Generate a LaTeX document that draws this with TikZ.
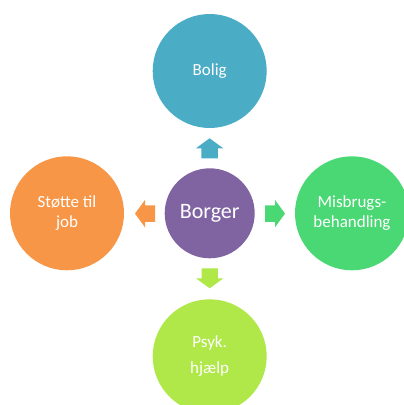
\documentclass[tikz,border=0pt]{standalone}
\usepackage{fontspec}
\setmainfont{Carlito}
\definecolor{cblue}{HTML}{4BACC6}
\definecolor{cpurple}{HTML}{8064A2}
\definecolor{corange}{HTML}{F79646}
\definecolor{cgreen}{HTML}{4AD874}
\definecolor{clime}{HTML}{B0E84A}
\begin{document}
\begin{tikzpicture}[x=1pt,y=-1pt,
  bubble/.style={circle,minimum size=114pt,inner sep=0pt,text=white,align=center,
    font=\fontsize{17}{20}\selectfont},
  pics/blockarrow/.style={code={
    \fill[#1] (0,-8.2) -- (10,-8.2) -- (10,-13.7) -- (20,0) -- (10,13.7) -- (10,8.2) -- (0,8.2) -- cycle;}}
]
\useasboundingbox (0,0) rectangle (404,405);
\clip (0,0) rectangle (404,405);
\node[bubble,fill=cblue] (bolig) at (209.7,71) {Bolig};
\node[bubble,fill=cgreen] (misbrug) at (352,213.3) {Misbrugs-\\behandling};
\node[bubble,fill=corange] (job) at (67,213.3) {Støtte til\\job};
\node[bubble,fill=clime,font=\fontsize{17}{26}\selectfont] (psyk) at (209.7,356.3) {Psyk.\\hjælp};
\node[circle,minimum size=90pt,inner sep=0pt,fill=cpurple,text=white,font=\fontsize{22}{26}\selectfont] (borger) at (209.7,213.3) {Borger};
\pic[rotate=90] at (209.6,158.3) {blockarrow=cblue};
\pic[rotate=-90] at (209.7,268.3) {blockarrow=clime};
\pic at (265,213.6) {blockarrow=cgreen};
\pic[rotate=180] at (155,213.6) {blockarrow=corange};
\end{tikzpicture}
\end{document}
